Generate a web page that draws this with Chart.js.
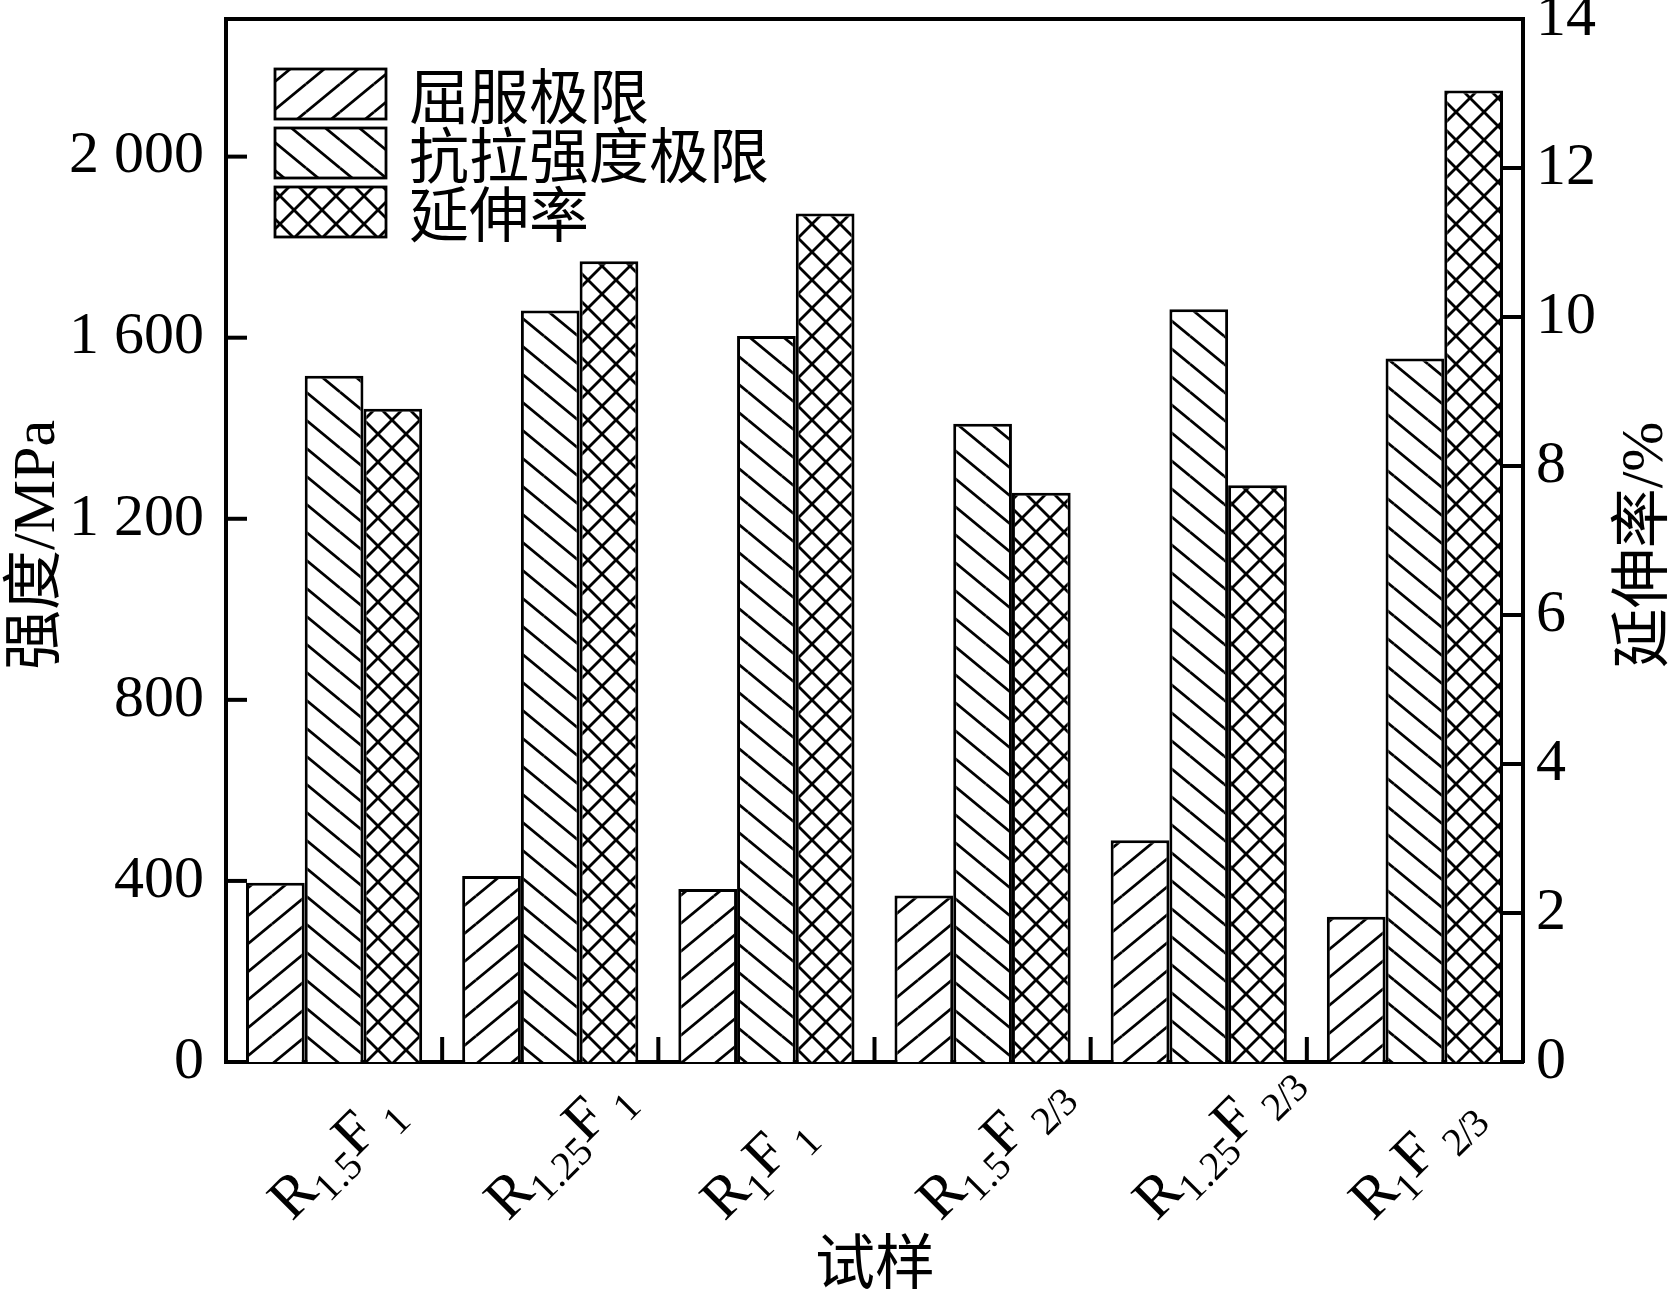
<!DOCTYPE html>
<html>
<head>
<meta charset="utf-8">
<script src="https://cdn.jsdelivr.net/npm/chart.js@4.4.1/dist/chart.umd.min.js"></script>
<style>
  body { margin: 0; background: #fff; }
</style>
</head>
<body>
<canvas id="chart" width="1673" height="1304"></canvas>
<script>
// data
const categories = ['R1.5F1', 'R1.25F1', 'R1F1', 'R1.5F2/3', 'R1.25F2/3', 'R1F2/3'];
const rSub = ['1.5', '1.25', '1', '1.5', '1.25', '1'];
const fSub = ['1', '1', '1', '2/3', '2/3', '2/3'];
const yieldLimit = [396, 411, 382, 368, 490, 321];     // MPa
const tensileLimit = [1516, 1660, 1604, 1410, 1663, 1554]; // MPa
const elongation = [8.77, 10.75, 11.39, 7.64, 7.74, 13.04]; // %
const seriesNames = ['屈服极限', '抗拉强度极限', '延伸率'];
const leftTicks = [0, 400, 800, 1200, 1600, 2000];
const rightTicks = [0, 2, 4, 6, 8, 10, 12, 14];

const serif = '"Liberation Serif", "Noto Sans CJK SC"';
const ctx = document.getElementById('chart').getContext('2d');

// hatch fills
function hatch(kind) {
  const w = kind === 'cross' ? 28 : 34, h = 28;
  const c = document.createElement('canvas');
  c.width = w; c.height = h;
  const g = c.getContext('2d');
  g.fillStyle = '#fff';
  g.fillRect(0, 0, w, h);
  g.strokeStyle = '#000';
  g.lineWidth = 2.8;
  const seg = (x0, y0, x1, y1) => {
    for (const dx of [-w, 0, w]) for (const dy of [-h, 0, h]) {
      g.beginPath(); g.moveTo(x0 + dx, y0 + dy); g.lineTo(x1 + dx, y1 + dy); g.stroke();
    }
  };
  if (kind !== 'back') seg(0, h, w, 0);
  if (kind !== 'fwd') seg(0, 0, w, h);
  return ctx.createPattern(c, 'repeat');
}
const fills = [hatch('fwd'), hatch('back'), hatch('cross')];

function fmt(v) {
  return v >= 1000 ? Math.floor(v / 1000) + ' ' + String(v % 1000).padStart(3, '0') : String(v);
}

// no extra padding above/below the y axes for the tick labels
function noPad(s) { s.paddingTop = 0; s.paddingBottom = 0; }

const extras = {
  id: 'extras',
  afterDraw(chart) {
    const c = chart.ctx, a = chart.chartArea;
    const x = chart.scales.x, y = chart.scales.y, y1 = chart.scales.y1;
    c.save();
    c.strokeStyle = '#000';
    c.lineWidth = 4;
    // top frame
    c.beginPath(); c.moveTo(a.left - 2, a.top); c.lineTo(a.right + 2, a.top); c.stroke();
    // inward ticks
    leftTicks.slice(1).forEach(v => {
      const p = y.getPixelForValue(v);
      c.beginPath(); c.moveTo(a.left, p); c.lineTo(a.left + 21, p); c.stroke();
    });
    rightTicks.slice(1, -1).forEach(v => {
      const p = y1.getPixelForValue(v);
      c.beginPath(); c.moveTo(a.right - 21, p); c.lineTo(a.right, p); c.stroke();
    });
    for (let i = 1; i < categories.length; i++) {
      const p = (x.getPixelForTick(i - 1) + x.getPixelForTick(i)) / 2;
      c.beginPath(); c.moveTo(p, a.bottom); c.lineTo(p, a.bottom - 25); c.stroke();
    }

    // x labels with subscripts
    c.fillStyle = '#000';
    c.textBaseline = 'alphabetic';
    const big = '60px ' + serif, small = '40px ' + serif;
    categories.forEach((cat, i) => {
      const parts = [['R', big, 0, 0], [rSub[i], small, 13, 0], ['F', big, 0, 0], [fSub[i], small, 15, 12]];
      const cx = x.getPixelForTick(i);
      c.save();
      c.translate(cx - 42, a.bottom + 160);
      c.rotate(-Math.PI / 4);
      let u = 0;
      parts.forEach(([t, f, dy, gap]) => {
        c.font = f;
        u += gap;
        for (const ch of t) {
          c.fillText(ch, u, dy);
          u += c.measureText(ch).width - (t.includes('/') ? 2 : 0);
        }
      });
      c.restore();
    });

    // axis titles
    c.font = '60px ' + serif;
    c.textAlign = 'center';
    c.textBaseline = 'middle';
    c.fillText('试样', 875, 1268);
    c.save(); c.translate(38, 545); c.rotate(-Math.PI / 2); c.fillText('强度/MPa', 0, 0); c.restore();
    c.save(); c.translate(1646, 545); c.rotate(-Math.PI / 2); c.fillText('延伸率/%', 0, 0); c.restore();

    // legend
    c.textAlign = 'left';
    c.lineWidth = 2.8;
    seriesNames.forEach((name, i) => {
      const top = 69 + i * 59;
      c.fillStyle = fills[i];
      c.fillRect(275, top, 111, 50);
      c.strokeRect(275, top, 111, 50);
      c.fillStyle = '#000';
      c.font = '60px "Noto Sans CJK SC"';
      c.fillText(name, 409, top + 27);
    });
    c.restore();
  }
};

new Chart(ctx, {
  type: 'bar',
  data: {
    labels: categories,
    datasets: [
      { label: seriesNames[0], data: yieldLimit, yAxisID: 'y', backgroundColor: fills[0] },
      { label: seriesNames[1], data: tensileLimit, yAxisID: 'y', backgroundColor: fills[1] },
      { label: seriesNames[2], data: elongation, yAxisID: 'y1', backgroundColor: fills[2] }
    ]
  },
  options: {
    responsive: false,
    animation: false,
    layout: { padding: { top: 19 } },
    datasets: {
      bar: { borderColor: '#000', borderWidth: 3, categoryPercentage: 0.815, barPercentage: 1 }
    },
    plugins: { legend: { display: false }, tooltip: { enabled: false } },
    scales: {
      x: {
        grid: { display: false, drawTicks: false },
        border: { color: '#000', width: 4 },
        ticks: { display: false },
        afterFit: s => { s.height = 242; s.paddingLeft = 0; s.paddingRight = 0; }
      },
      y: {
        position: 'left',
        min: 0, max: 2304,
        afterBuildTicks: s => { s.ticks = leftTicks.map(v => ({ value: v })); },
        grid: { display: false, drawTicks: false },
        border: { color: '#000', width: 4 },
        ticks: { color: '#000', padding: 22, font: { family: serif, size: 60 }, callback: v => fmt(v) },
        afterFit: s => { s.width = 226; noPad(s); }
      },
      y1: {
        position: 'right',
        min: 0, max: 14,
        afterBuildTicks: s => { s.ticks = rightTicks.map(v => ({ value: v })); },
        grid: { display: false, drawTicks: false },
        border: { color: '#000', width: 4 },
        ticks: { color: '#000', padding: 13, font: { family: serif, size: 60 } },
        afterFit: s => { s.width = 150; noPad(s); }
      }
    }
  },
  plugins: [extras]
});
</script>
</body>
</html>
